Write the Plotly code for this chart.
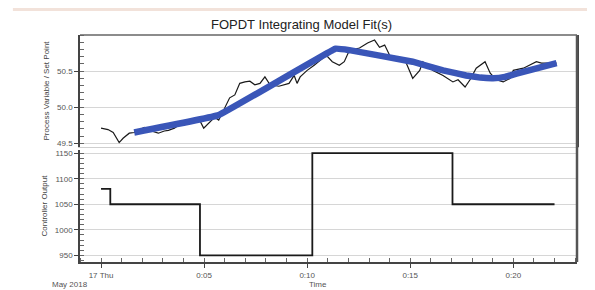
import plotly.graph_objects as go

# Process variable (measured), minutes since 17 May 2018 00:00
pv_t = [0.0, 0.34, 0.59, 0.88, 1.07, 1.37, 1.61, 1.85, 2.10, 2.44, 2.78, 3.07, 3.27, 3.56,
        3.90, 4.24, 4.54, 4.73, 4.98, 5.22, 5.51, 5.71, 6.00, 6.24, 6.49, 6.73, 6.98, 7.22,
        7.46, 7.71, 7.95, 8.20, 8.63, 9.12, 9.37, 9.51, 9.66, 10.0, 10.34, 10.63, 10.93,
        11.22, 11.56, 11.80, 12.05, 12.54, 12.93, 13.27, 13.51, 13.76, 14.0, 14.29, 14.78,
        15.12, 15.46, 15.61, 16.10, 16.59, 17.07, 17.32, 17.66, 17.90, 18.20, 18.63, 18.88,
        19.17, 19.51, 19.85, 20.0, 20.49, 21.12, 21.37, 21.61, 22.10]
pv_v = [49.71, 49.69, 49.65, 49.51, 49.57, 49.64, 49.65, 49.69, 49.72, 49.67, 49.64, 49.67,
        49.68, 49.71, 49.78, 49.78, 49.82, 49.85, 49.71, 49.78, 49.86, 49.82, 50.00, 50.13,
        50.17, 50.33, 50.35, 50.36, 50.31, 50.33, 50.42, 50.31, 50.29, 50.33, 50.44, 50.33,
        50.42, 50.51, 50.58, 50.65, 50.72, 50.63, 50.58, 50.63, 50.79, 50.82, 50.89, 50.93,
        50.83, 50.86, 50.72, 50.65, 50.63, 50.40, 50.51, 50.63, 50.51, 50.44, 50.35, 50.38,
        50.28, 50.38, 50.54, 50.63, 50.47, 50.38, 50.35, 50.40, 50.51, 50.54, 50.63, 50.61,
        50.61, 50.61]

# Model fit
fit_t = [1.61, 5.71, 11.37, 12.05, 15.12, 16.59, 17.71, 18.4, 19.02, 19.6, 20.2, 22.1]
fit_v = [49.65, 49.89, 50.81, 50.79, 50.63, 50.51, 50.44, 50.41, 50.40, 50.42, 50.47, 50.61]

# Controller output (value holds from each time until the next)
co_t = [0.0, 0.45, 4.8, 10.25, 17.05, 22.0]
co_v = [1080, 1050, 950, 1150, 1050, 1050]

x_tickvals = [0, 5, 10, 15, 20]
x_ticktext = ["17 Thu", "0:05", "0:10", "0:15", "0:20"]
pv_tickvals = [49.5, 50.0, 50.5]
pv_ticktext = ["49.5", "50.0", "50.5"]
co_tickvals = [950, 1000, 1050, 1100, 1150]

FONT = "Liberation Sans, Arial, sans-serif"
XR = [-1.02, 23.09]

fig = go.Figure()
fig.add_trace(go.Scatter(x=pv_t, y=pv_v, mode="lines", xaxis="x", yaxis="y",
                         line=dict(color="#1a1a1a", width=1.2), showlegend=False))
fig.add_trace(go.Scatter(x=fit_t, y=fit_v, mode="lines", xaxis="x", yaxis="y",
                         line=dict(color="#3a56b8", width=6.5, shape="spline", smoothing=0.15),
                         showlegend=False))
fig.add_trace(go.Scatter(x=co_t, y=co_v, mode="lines", xaxis="x2", yaxis="y2",
                         line=dict(color="#1a1a1a", width=1.8, shape="hv"), showlegend=False))

common_x = dict(range=XR, showgrid=False, zeroline=False, automargin=False)
fig.update_layout(
    width=587, height=282,
    margin=dict(l=72, r=18, t=27, b=28, autoexpand=False),
    paper_bgcolor="white", plot_bgcolor="white",
    font=dict(family=FONT, size=8, color="#555"),
    title=dict(text="FOPDT Integrating Model Fit(s)", x=0.5, xref="container", xanchor="center",
               y=0.943, yanchor="middle", font=dict(size=13, color="#222", family=FONT)),
    xaxis=dict(**common_x, anchor="y", domain=[0, 1], showticklabels=False,
               showline=True, linecolor="#cfcfcf", linewidth=1, mirror=False, ticks=""),
    xaxis2=dict(**common_x, anchor="y2", domain=[0, 1], tickvals=x_tickvals,
                ticktext=x_ticktext, ticks="outside", ticklen=4, tickcolor="#444",
                showline=True, linecolor="#444", linewidth=2,
                tickfont=dict(size=8, color="#555"),
                minor=dict(dtick=1, tick0=0, ticks="inside", ticklen=4, tickcolor="#666")),
    yaxis=dict(domain=[0.507, 1], range=[49.45, 51.0], anchor="x", automargin=False,
               tickvals=pv_tickvals, ticktext=pv_ticktext, ticks="outside", ticklen=4,
               tickcolor="#444", showline=True, linecolor="#444", linewidth=1.5,
               mirror=True, showgrid=True, gridcolor="#d6d6d6", gridwidth=1, zeroline=False,
               minor=dict(dtick=0.1, ticks="inside", ticklen=4, tickcolor="#666", showgrid=False),
               title=dict(text="Process Variable / Set Point", standoff=6,
                          font=dict(size=8, color="#444"))),
    yaxis2=dict(domain=[0, 0.493], range=[937, 1156], anchor="x2", automargin=False,
                tickvals=co_tickvals, ticks="outside", ticklen=4, tickcolor="#444",
                showline=True, linecolor="#444", linewidth=1.5, mirror=False,
                showgrid=True, gridcolor="#d6d6d6", gridwidth=1, zeroline=False,
                minor=dict(dtick=10, ticks="inside", ticklen=4, tickcolor="#666", showgrid=False),
                title=dict(text="Controller Output", standoff=6,
                           font=dict(size=8, color="#444"))),
)

# right border (darker, like a shadow) spanning both panels
fig.add_shape(type="line", xref="paper", yref="paper", x0=1, x1=1, y0=0, y1=1,
              line=dict(color="#555", width=2.5))
# top border
fig.add_shape(type="line", xref="paper", yref="paper", x0=0, x1=1, y0=1, y1=1,
              line=dict(color="#666", width=1.5))
# decorative pink rule at the very top
fig.add_shape(type="line", xref="paper", yref="paper", x0=-0.135, x1=1.04, y0=1.112, y1=1.112,
              line=dict(color="#f2e2da", width=3))

fig.add_annotation(text="May 2018", xref="paper", yref="paper", x=-0.02, y=-0.097,
                   xanchor="center", yanchor="middle", showarrow=False,
                   font=dict(size=8, color="#555"))
fig.add_annotation(text="Time", xref="paper", yref="paper", x=0.479, y=-0.097,
                   xanchor="center", yanchor="middle", showarrow=False,
                   font=dict(size=8, color="#555"))

fig.write_html("out.html")
